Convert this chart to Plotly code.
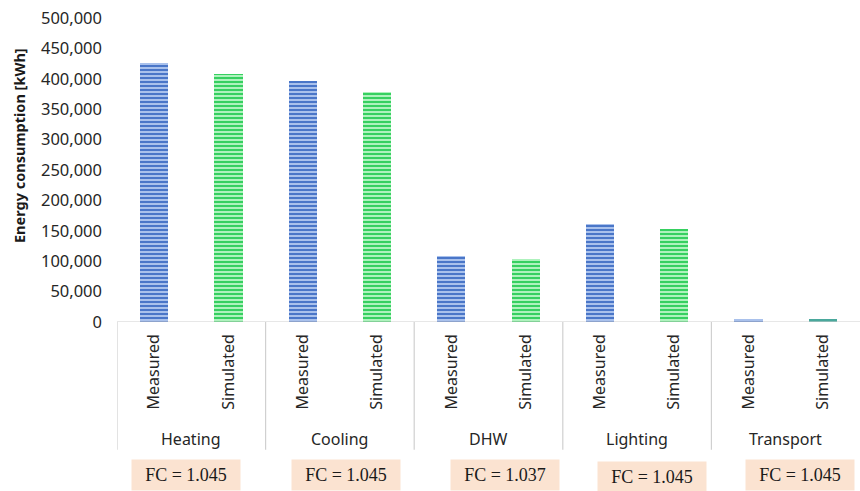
import plotly.graph_objects as go

# Data
end_uses = ["Heating", "Cooling", "DHW", "Lighting", "Transport"]
measured = [426000, 396000, 108000, 161000, 4500]
simulated = [407500, 379000, 104000, 153000, 4300]
fc_values = ["1.045", "1.045", "1.037", "1.045", "1.045"]
y_ticks = [0, 50000, 100000, 150000, 200000, 250000, 300000, 350000, 400000, 450000, 500000]

n = len(end_uses)
x_meas = [2 * i for i in range(n)]
x_sim = [2 * i + 1 for i in range(n)]

blue = "#4a76c8"
blue_light = "#a9c1ec"
green = "#36d060"
green_light = "#aef2bd"
teal = "#4aa89c"


def striped(base, light):
    return dict(color=base, line=dict(width=0),
                pattern=dict(shape="-", fillmode="replace", fgcolor=light,
                             bgcolor=base, size=4, solidity=0.5))


fig = go.Figure()
fig.add_trace(go.Bar(x=x_meas, y=measured, name="Measured", width=0.38,
                     marker=striped(blue, blue_light)))
fig.add_trace(go.Bar(x=x_sim[:-1], y=simulated[:-1], name="Simulated", width=0.38,
                     marker=striped(green, green_light)))
# Transport simulated bar drawn in teal
fig.add_trace(go.Bar(x=x_sim[-1:], y=simulated[-1:], name="Simulated", width=0.38,
                     marker=dict(color=teal, line=dict(width=0))))

label_font = dict(family="Noto Sans", size=16, color="#262626")

# Group separators below the baseline
shapes = []
for i in range(n):
    shapes.append(dict(type="line", xref="x", yref="paper",
                       x0=2 * i - 0.5, x1=2 * i - 0.5, y0=0, y1=-0.42,
                       line=dict(color="#d0d0d0", width=1.2)))
shapes.append(dict(type="line", xref="paper", yref="y", x0=0, x1=1, y0=0, y1=0,
                   line=dict(color="#d0d0d0", width=1.2)))

annotations = []
for i, name in enumerate(end_uses):
    annotations.append(dict(x=2 * i + 0.5, y=-0.385, xref="x", yref="paper",
                            text=name, showarrow=False, font=label_font,
                            xanchor="center", yanchor="middle"))

# FC boxes under each group
box_x = [186, 346, 505, 652, 800]
box_y = [475, 475, 475, 477, 475]
for bx, by, fc in zip(box_x, box_y, fc_values):
    annotations.append(dict(x=(bx - 117) / 743, y=(322 - by) / 304,
                            xref="paper", yref="paper",
                            text=f"FC = {fc}", showarrow=False,
                            font=dict(family="Liberation Serif", size=18, color="#1a1a1a"),
                            bgcolor="#fbe3d1", width=106, height=28,
                            xanchor="center", yanchor="middle"))

# Y axis title
annotations.append(dict(x=-98 / 743, y=(322 - 146) / 304, xref="paper", yref="paper",
                        text="<b>Energy consumption [kWh]</b>", textangle=-90,
                        showarrow=False,
                        font=dict(family="Noto Sans", size=14.5, color="#1a1a1a"),
                        xanchor="center", yanchor="middle"))

fig.update_layout(
    width=860, height=491,
    margin=dict(l=117, r=0, t=18, b=169),
    paper_bgcolor="white", plot_bgcolor="white",
    showlegend=False,
    bargap=0, barmode="overlay",
    shapes=shapes,
    annotations=annotations,
    xaxis=dict(
        range=[-0.5, 2 * n - 0.5],
        tickvals=x_meas + x_sim,
        ticktext=["Measured"] * n + ["Simulated"] * n,
        tickangle=-90, tickfont=label_font,
        showgrid=False, zeroline=False, showline=False, ticks="",
        ticklabelstandoff=8,
    ),
    yaxis=dict(
        range=[0, 500000], tickvals=y_ticks,
        ticktext=[f"{v:,}" for v in y_ticks],
        tickfont=dict(family="Noto Sans", size=16.5, color="#262626"),
        showgrid=False, zeroline=False, showline=False, ticks="",
        ticklabelstandoff=14,
    ),
)

fig.write_html("out.html")
